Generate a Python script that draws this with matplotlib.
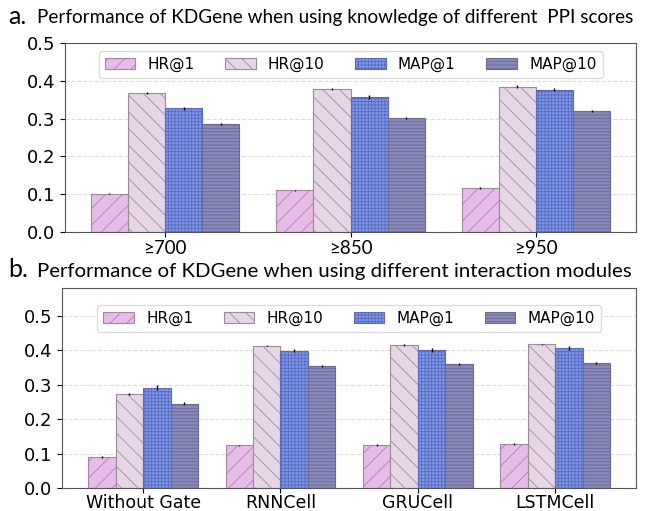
import matplotlib
matplotlib.use('Agg')
import numpy as np
import matplotlib.pyplot as plt

# data
metrics = ['HR@1', 'HR@10', 'MAP@1', 'MAP@10']

ppi_labels = ['≥700', '≥850', '≥950']
ppi_hr1 = [0.101, 0.110, 0.116]
ppi_hr10 = [0.367, 0.378, 0.384]
ppi_map1 = [0.327, 0.356, 0.376]
ppi_map10 = [0.286, 0.302, 0.320]
ppi_err = [[0.001, 0.002, 0.002], [0.003, 0.003, 0.004],
           [0.004, 0.005, 0.004], [0.003, 0.003, 0.003]]

mod_labels = ['Without Gate', 'RNNCell', 'GRUCell', 'LSTMCell']
mod_hr1 = [0.090, 0.124, 0.125, 0.127]
mod_hr10 = [0.274, 0.413, 0.415, 0.417]
mod_map1 = [0.291, 0.399, 0.401, 0.407]
mod_map10 = [0.245, 0.355, 0.359, 0.362]
mod_err = [[0.002, 0.002, 0.002, 0.003], [0.003, 0.002, 0.002, 0.002],
           [0.007, 0.005, 0.005, 0.006], [0.004, 0.003, 0.003, 0.003]]

colors = ['#e8bce8', '#e6d6e6', '#7b97ef', '#8a8ab8']
edges = ['#a584a5', '#9a8a9a', '#5a6ab8', '#6a6a9a']
hatches = ['//', '\\\\', '+++++', '-----']

plt.rcParams['hatch.linewidth'] = 0.6


def draw(ax, labels, series, errs, ytop, leg_y):
    x = np.arange(len(labels))
    w = 0.2
    for i, vals in enumerate(series):
        ax.bar(x + (i - 1.5) * w, vals, w, color=colors[i], hatch=hatches[i],
               edgecolor=edges[i], linewidth=0.8, label=metrics[i], zorder=2,
               yerr=errs[i], error_kw=dict(ecolor='black', elinewidth=1.0, capsize=0))
    ax.set_xticks(x)
    ax.set_xticklabels(labels)
    ax.set_ylim(0, ytop)
    ax.set_yticks([0, 0.1, 0.2, 0.3, 0.4, 0.5])
    ax.yaxis.grid(True, linestyle='--', color='#dddddd', linewidth=0.8, zorder=0)
    ax.set_axisbelow(True)
    ax.tick_params(axis='y', labelsize=13)
    for s in ax.spines.values():
        s.set_color('#555555')
    ax.legend(ncol=4, loc='upper center', bbox_to_anchor=(0.5, leg_y), fontsize=11,
              handlelength=2.0, handletextpad=0.8, columnspacing=2.0,
              framealpha=1, edgecolor='#dddddd')


fig = plt.figure(figsize=(6.46, 5.11), dpi=100)

ax1 = fig.add_axes([0.1006, 0.546, 0.884, 0.370])
draw(ax1, ppi_labels, [ppi_hr1, ppi_hr10, ppi_map1, ppi_map10], ppi_err, 0.5, 1.0)
ax1.tick_params(axis='x', labelsize=13.5, pad=2)
for t in ax1.get_xticklabels():
    t.set_fontfamily(['Lato', 'DejaVu Sans'])

ax2 = fig.add_axes([0.096, 0.045, 0.889, 0.391])
draw(ax2, mod_labels, [mod_hr1, mod_hr10, mod_map1, mod_map10], mod_err, 0.58, 0.955)
ax2.tick_params(axis='x', labelsize=12.5, pad=1)

fig.text(0.012, 0.967, 'a.', fontsize=18, family='Lato', va='center')
fig.text(0.058, 0.965, 'Performance of KDGene when using knowledge of different  PPI scores',
         fontsize=13.6, family='Lato', va='center')
fig.text(0.012, 0.472, 'b.', fontsize=18, family='Lato', va='center')
fig.text(0.058, 0.468, 'Performance of KDGene when using different interaction modules',
         fontsize=14.7, family='Lato', va='center')

fig.savefig('out.png', dpi=100)
